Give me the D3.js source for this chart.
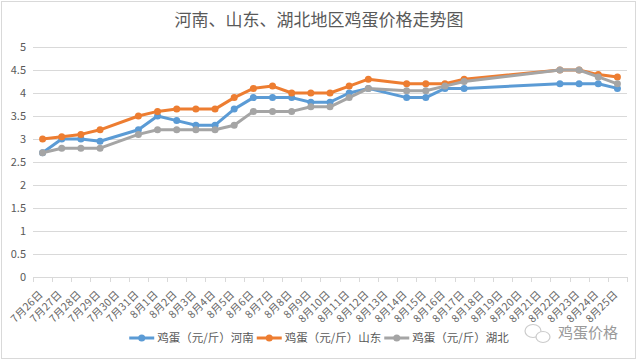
<!DOCTYPE html>
<html>
<head>
<meta charset="utf-8">
<script src="https://cdn.jsdelivr.net/npm/d3@7/dist/d3.min.js"></script>
<style>
  body { margin: 0; background: #fff; }
  text { font-family: "Noto Sans CJK SC", "Noto Sans", sans-serif; }
</style>
</head>
<body>
<svg id="chart" width="640" height="361"></svg>
<script>
// categories
var dates = ["7月26日","7月27日","7月28日","7月29日","7月30日","7月31日",
  "8月1日","8月2日","8月3日","8月4日","8月5日","8月6日","8月7日","8月8日",
  "8月9日","8月10日","8月11日","8月12日","8月13日","8月14日","8月15日",
  "8月16日","8月17日","8月18日","8月19日","8月20日","8月21日","8月22日",
  "8月23日","8月24日","8月25日"];

// series values (null = no data that day)
var henan = [2.7,3.0,3.0,2.95,null,3.2,3.5,3.4,3.3,3.3,3.65,3.9,3.9,3.9,3.8,3.8,
  4.0,4.1,null,3.9,3.9,4.1,4.1,null,null,null,null,4.2,4.2,4.2,4.1];
var shandong = [3.0,3.05,3.1,3.2,null,3.5,3.6,3.65,3.65,3.65,3.9,4.1,4.15,4.0,4.0,4.0,
  4.15,4.3,null,4.2,4.2,4.2,4.3,null,null,null,null,4.5,4.5,4.4,4.35];
var hubei = [2.7,2.8,2.8,2.8,null,3.1,3.2,3.2,3.2,3.2,3.3,3.6,3.6,3.6,3.7,3.7,
  3.9,4.1,null,4.05,4.05,4.15,4.25,null,null,null,null,4.5,4.5,4.35,4.2];

var seriesNames = ["鸡蛋（元/斤）河南", "鸡蛋（元/斤）山东", "鸡蛋（元/斤）湖北"];
var colors = ["#5b9bd5", "#ed7d31", "#a5a5a5"];
var yTicks = [0, 0.5, 1, 1.5, 2, 2.5, 3, 3.5, 4, 4.5, 5];

var svg = d3.select("#chart");

// chart border
svg.append("rect")
  .attr("x", 1.5).attr("y", 1.5)
  .attr("width", 634).attr("height", 357)
  .attr("fill", "#fff")
  .attr("stroke", "#d9d9d9");

// title
svg.append("text")
  .attr("x", 319).attr("y", 26)
  .attr("text-anchor", "middle")
  .attr("font-size", 17)
  .attr("fill", "#595959")
  .text("河南、山东、湖北地区鸡蛋价格走势图");

var x = d3.scaleBand().domain(dates).range([33, 627]);
var y = d3.scaleLinear().domain([0, 5]).range([277, 47]);

// gridlines
svg.append("g")
  .selectAll("line")
  .data(yTicks)
  .enter()
  .append("line")
    .attr("x1", 33).attr("x2", 627)
    .attr("y1", function(d) { return Math.round(y(d)) + 0.5; })
    .attr("y2", function(d) { return Math.round(y(d)) + 0.5; })
    .attr("stroke", "#d9d9d9");

// y labels
svg.append("g")
  .selectAll("text")
  .data(yTicks)
  .enter()
  .append("text")
    .attr("x", 26)
    .attr("y", function(d) { return y(d); })
    .attr("dy", "0.35em")
    .attr("text-anchor", "end")
    .attr("font-size", 11)
    .attr("fill", "#595959")
    .text(function(d) { return d; });

// x axis ticks (between categories)
var tickPos = dates.map(function(d) { return x(d); }).concat([x.range()[1]]);
svg.append("g")
  .selectAll("line")
  .data(tickPos)
  .enter()
  .append("line")
    .attr("x1", function(d) { return Math.round(d) + 0.5; })
    .attr("x2", function(d) { return Math.round(d) + 0.5; })
    .attr("y1", 277).attr("y2", 282)
    .attr("stroke", "#d9d9d9");

// x labels, rotated
svg.append("g")
  .selectAll("text")
  .data(dates)
  .enter()
  .append("text")
    .attr("transform", function(d) {
      var cx = x(d) + x.bandwidth() / 2 + 1;
      return "translate(" + cx + ",295) rotate(-45)";
    })
    .attr("text-anchor", "end")
    .attr("font-size", 10.5)
    .attr("letter-spacing", 0.3)
    .attr("fill", "#666")
    .text(function(d) { return d; });

// lines and markers
var all = [henan, shandong, hubei];
var line = d3.line()
  .x(function(d) { return x(d.date) + x.bandwidth() / 2; })
  .y(function(d) { return y(d.v); });

all.forEach(function(vals, i) {
  var pts = vals.map(function(v, j) { return {date: dates[j], v: v}; })
    .filter(function(d) { return d.v !== null; });
  var g = svg.append("g");
  g.append("path")
    .attr("d", line(pts))
    .attr("fill", "none")
    .attr("stroke", colors[i])
    .attr("stroke-width", 3)
    .attr("stroke-linejoin", "round");
  g.selectAll("circle")
    .data(pts)
    .enter()
    .append("circle")
      .attr("cx", function(d) { return x(d.date) + x.bandwidth() / 2; })
      .attr("cy", function(d) { return y(d.v); })
      .attr("r", 3.5)
      .attr("fill", colors[i]);
});

// legend: items laid out from measured text widths, centred on the chart
var legend = svg.append("g");
var items = seriesNames.map(function(name, i) {
  var g = legend.append("g");
  g.append("line")
    .attr("x1", 0).attr("x2", 25)
    .attr("y1", 338).attr("y2", 338)
    .attr("stroke", colors[i]).attr("stroke-width", 3);
  g.append("circle")
    .attr("cx", 12.5).attr("cy", 338).attr("r", 3.5)
    .attr("fill", colors[i]);
  var t = g.append("text")
    .attr("x", 28).attr("y", 338)
    .attr("dy", "0.35em")
    .attr("font-size", 11.5)
    .attr("fill", "#595959")
    .text(name);
  return {g: g, w: 28 + t.node().getComputedTextLength()};
});
var gap = 3;
var total = d3.sum(items, function(d) { return d.w; }) + gap * (items.length - 1);
var lx = 319 - total / 2;
items.forEach(function(it) {
  it.g.attr("transform", "translate(" + lx + ",0)");
  lx += it.w + gap;
});

// watermark
var wm = svg.append("g").attr("opacity", 0.75);
wm.append("ellipse").attr("cx", 533).attr("cy", 331).attr("rx", 8).attr("ry", 6.5)
  .attr("fill", "none").attr("stroke", "#bbb").attr("stroke-width", 1.2);
wm.append("ellipse").attr("cx", 543).attr("cy", 337).attr("rx", 7).attr("ry", 5.5)
  .attr("fill", "#fff").attr("stroke", "#bbb").attr("stroke-width", 1.2);
wm.append("text")
  .attr("x", 558).attr("y", 333)
  .attr("dy", "0.35em")
  .attr("font-size", 15)
  .attr("fill", "#777")
  .text("鸡蛋价格");
</script>
</body>
</html>
